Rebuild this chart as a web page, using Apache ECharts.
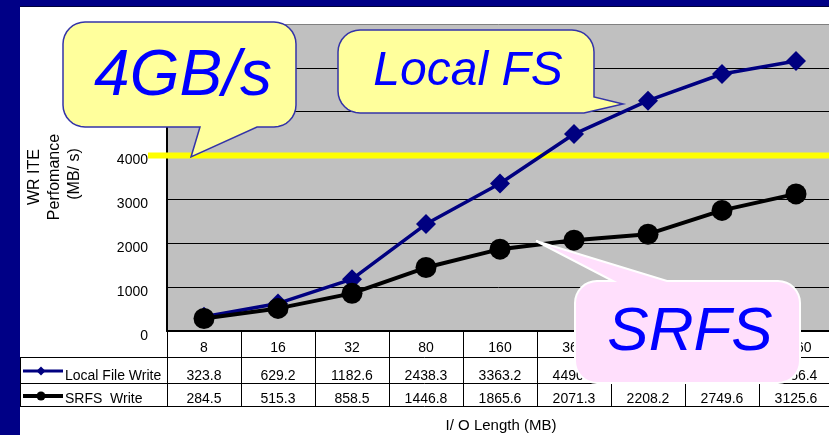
<!DOCTYPE html>
<html>
<head>
<meta charset="utf-8">
<script src="https://cdn.jsdelivr.net/npm/echarts@6/dist/echarts.min.js"></script>
<style>
  html, body { margin: 0; padding: 0; }
  #wrap { position: relative; width: 829px; height: 435px; background: #000086; overflow: hidden; }
  #panel { position: absolute; left: 20px; top: 6px; width: 809px; height: 429px; background: #ffffff; border-top: 1px solid #00003a; }
  #chart { position: absolute; left: 0; top: 0; width: 829px; height: 435px; }
</style>
</head>
<body>
<div id="wrap"><div id="panel"></div><div id="chart"></div></div>
<script>
// ---- data ----
const categories = ['8', '16', '32', '80', '160', '360', '640', '1280', '2560'];
const localWrite = [323.8, 629.2, 1182.6, 2438.3, 3363.2, 4490.6, 5251.0, 5860.0, 6156.4];
const srfsWrite  = [284.5, 515.3, 858.5, 1446.8, 1865.6, 2071.3, 2208.2, 2749.6, 3125.6];
const yMin = 0, yMax = 7000, yStep = 1000;
const limitValue = 4000;
const seriesNames = ['Local File Write', 'SRFS  Write'];
const yTitleLines = ['WR ITE', 'Perfomance', '(MB/ s)'];
const xTitle = 'I/ O Length (MB)';

const FONT = '"Liberation Sans", Arial, sans-serif';
const chart = echarts.init(document.getElementById('chart'), null, { renderer: 'canvas' });

const fmt = v => v.toFixed(1);

const option = {
  backgroundColor: 'transparent',
  animation: false,
  textStyle: { fontFamily: FONT },
  grid: {
    left: 167, top: 24, width: 666, height: 307,
    containLabel: false, outerBoundsMode: 'none',
    show: true, backgroundColor: '#c0c0c0', borderWidth: 0
  },
  xAxis: [
    {
      type: 'category', data: categories, position: 'bottom', boundaryGap: true,
      axisLine: { show: true, lineStyle: { color: '#000', width: 2 } },
      axisTick: { show: true, length: 75, interval: 0, alignWithLabel: false, lineStyle: { color: '#000', width: 1 } },
      axisLabel: { interval: 0, margin: 10, fontSize: 14, color: '#000', fontFamily: FONT },
      splitLine: { show: false }
    },
    {
      type: 'category', data: localWrite.map(fmt), position: 'bottom', offset: 28, gridIndex: 0,
      axisLine: { show: false }, axisTick: { show: false },
      axisLabel: { interval: 0, margin: 10, fontSize: 14, color: '#000', fontFamily: FONT },
      splitLine: { show: false }
    },
    {
      type: 'category', data: srfsWrite.map(fmt), position: 'bottom', offset: 51, gridIndex: 0,
      axisLine: { show: false }, axisTick: { show: false },
      axisLabel: { interval: 0, margin: 10, fontSize: 14, color: '#000', fontFamily: FONT },
      splitLine: { show: false }
    }
  ],
  yAxis: {
    type: 'value', min: yMin, max: yMax, interval: yStep,
    axisLine: { show: true, lineStyle: { color: '#000', width: 2 } },
    axisTick: { show: true, inside: true, length: 5, lineStyle: { color: '#000' } },
    axisLabel: {
      margin: 19, fontSize: 14, color: '#000', fontFamily: FONT,
      verticalAlign: 'top', lineHeight: 10, showMaxLabel: false,
      formatter: v => String(v)
    },
    splitLine: { show: true, lineStyle: { color: ['#000', '#000', '#000', '#000', '#000', '#000', '#000', '#808080'], width: 1 } }
  },
  series: [
    {
      name: seriesNames[0], type: 'line', xAxisIndex: 0, data: localWrite,
      symbol: 'diamond', symbolSize: 20, z: 3,
      lineStyle: { color: '#000080', width: 3.5 },
      itemStyle: { color: '#000080' }
    },
    {
      name: seriesNames[1], type: 'line', xAxisIndex: 0, data: srfsWrite,
      symbol: 'circle', symbolSize: 21, z: 3,
      lineStyle: { color: '#000000', width: 4 },
      itemStyle: { color: '#000000' }
    }
  ]
};
chart.setOption(option);

// positions derived from the library scales
const yLimit = chart.convertToPixel({ yAxisIndex: 0 }, limitValue);

// rounded-corner arc points (angles in degrees, screen coords)
function arc(cx, cy, r, a0, a1) {
  const pts = [];
  const n = 8;
  for (let i = 0; i <= n; i++) {
    const a = (a0 + (a1 - a0) * i / n) * Math.PI / 180;
    pts.push([cx + r * Math.cos(a), cy + r * Math.sin(a)]);
  }
  return pts;
}

// 4GB/s bubble: x 63-296, y 22-127, pointer on bottom edge
const r1 = 22;
const bubble1 = [].concat(
  arc(63 + r1, 22 + r1, r1, 180, 270),
  arc(296 - r1, 22 + r1, r1, 270, 360),
  arc(296 - r1, 127 - r1, r1, 0, 90),
  [[257, 127], [191, 157], [200, 127]],
  arc(63 + r1, 127 - r1, r1, 90, 180)
);
// Local FS bubble: x 338-594, y 30-113, pointer on right edge
const r2 = 22;
const bubble2 = [].concat(
  arc(338 + r2, 30 + r2, r2, 180, 270),
  arc(594 - r2, 30 + r2, r2, 270, 360),
  [[594, 97], [623, 104], [584, 113]],
  arc(338 + r2, 113 - r2, r2, 90, 180)
);
// SRFS bubble: x 575-800, y 281-383, pointer on top edge
const r3 = 22;
const bubble3 = [].concat(
  arc(575 + r3, 281 + r3, r3, 180, 270),
  [[613, 281], [536, 241], [667, 281]],
  arc(800 - r3, 281 + r3, r3, 270, 360),
  arc(800 - r3, 383 - r3, r3, 0, 90),
  arc(575 + r3, 383 - r3, r3, 90, 180)
);

const bubbleStroke = '#3434a8';
const calloutText = (x, y, t, size) => ({
  type: 'text', x: x, y: y, z: 21,
  style: { text: t, fontSize: size, fontStyle: 'italic', fontFamily: FONT, fill: '#0000ff', align: 'center', verticalAlign: 'middle' }
});
const plainText = (x, y, t, size, extra) => Object.assign({
  type: 'text', z: 6, x: x, y: y,
  style: { text: t, fontSize: size, fontFamily: FONT, fill: '#000', align: 'center', verticalAlign: 'middle' }
}, extra || {});
const hLine = (x1, y1, x2, y2, color, w, z) => ({
  type: 'line', z: z, shape: { x1: x1, y1: y1, x2: x2, y2: y2 }, style: { stroke: color, lineWidth: w }
});

const graphics = [
  // threshold line
  hLine(148, yLimit, 829, yLimit, '#ffff00', 6, 1),
  // table lines
  hLine(20, 357.5, 829, 357.5, '#000', 1, 5),
  hLine(20, 383.5, 829, 383.5, '#000', 1, 5),
  hLine(20, 406.5, 829, 406.5, '#000', 1, 5),
  hLine(20.5, 357, 20.5, 407, '#000', 1, 5),
  // legend keys in table
  hLine(23, 371, 63, 371, '#000080', 3, 5),
  { type: 'polygon', z: 6, shape: { points: [[41, 366.5], [45.5, 371], [41, 375.5], [36.5, 371]] }, style: { fill: '#000080' } },
  hLine(23, 396, 63, 396, '#000', 4, 5),
  { type: 'circle', z: 6, shape: { cx: 41, cy: 396, r: 4.5 }, style: { fill: '#000' } },
  { type: 'text', z: 6, x: 65, y: 376, style: { text: seriesNames[0], fontSize: 14, fontFamily: FONT, fill: '#000', align: 'left', verticalAlign: 'middle' } },
  { type: 'text', z: 6, x: 65, y: 399, style: { text: seriesNames[1], fontSize: 14, fontFamily: FONT, fill: '#000', align: 'left', verticalAlign: 'middle' } },
  // axis titles
  plainText(35, 177, yTitleLines[0], 16, { rotation: Math.PI / 2 }),
  plainText(55, 177, yTitleLines[1], 16, { rotation: Math.PI / 2 }),
  plainText(75, 174, yTitleLines[2], 16, { rotation: Math.PI / 2 }),
  plainText(501, 426, xTitle, 15),
  // callouts
  { type: 'polygon', z: 20, shape: { points: bubble1 }, style: { fill: '#ffff9c', stroke: bubbleStroke, lineWidth: 1.5 } },
  calloutText(183, 77, '4GB/s', 64),
  { type: 'polygon', z: 20, shape: { points: bubble2 }, style: { fill: '#ffff9c', stroke: bubbleStroke, lineWidth: 1.5 } },
  calloutText(468, 72, 'Local FS', 48),
  { type: 'polygon', z: 20, shape: { points: bubble3 }, style: { fill: '#ffdffc', stroke: '#ffffff', lineWidth: 2 } },
  calloutText(690, 333, 'SRFS', 62)
];
chart.setOption({ graphic: graphics });
</script>
</body>
</html>
